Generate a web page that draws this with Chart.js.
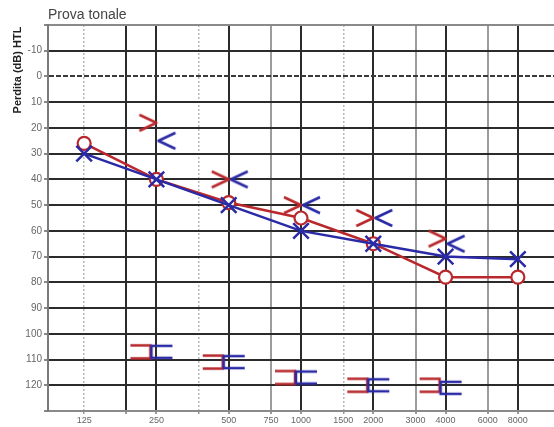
<!DOCTYPE html>
<html lang="it">
<head>
  <meta charset="UTF-8">
  <title>Prova tonale</title>
  <script src="https://cdn.jsdelivr.net/npm/chart.js@4.4.1/dist/chart.umd.min.js"></script>
  <style>
    html, body {
      margin: 0;
      padding: 0;
      background: #fff;
      overflow: hidden;
    }
  </style>
</head>
<body>

  <canvas id="audiogramma" width="554" height="427"></canvas>

  <script>
    // frequenze (Hz) con linea di griglia e quelle con etichetta
    const frequenzeGriglia = [125, 187.5, 250, 375, 500, 750, 1000, 1500, 2000, 3000, 4000, 6000, 8000];
    const frequenzeEtichette = [125, 250, 500, 750, 1000, 1500, 2000, 3000, 4000, 6000, 8000];
    const ticksDb = [-20, -10, 0, 10, 20, 30, 40, 50, 60, 70, 80, 90, 100, 110, 120, 130];

    // via aerea
    const frequenzeVA = [125, 250, 500, 1000, 2000, 4000, 8000];
    const destraVA = [26, 40, 49, 55, 65, 78, 78];
    const sinistraVA = [30, 40, 50, 60, 65, 70, 71];

    // via ossea
    const frequenzeVO = [250, 500, 1000, 2000, 4000];
    const destraVO = [18, 40, 50, 55, 63];
    const sinistraVO = [25, 40, 50, 55, 65];

    // mascheramento
    const frequenzeMasch = [250, 500, 1000, 2000, 4000];
    const destraMasch = [107, 111, 117, 120, 120];
    const sinistraMasch = [107, 111, 117, 120, 121];

    const ROSSO = '#b8282c';
    const BLU = '#2a2aa6';

    function segno(tipo, colore) {
      const c = document.createElement('canvas');
      c.width = 64;
      c.height = 24;
      const g = c.getContext('2d');
      g.strokeStyle = colore;
      g.lineWidth = 2.5;
      const cx = 32, cy = 12;
      g.beginPath();
      if (tipo === '>') {
        g.lineJoin = 'round';
        g.moveTo(cx - 17, cy - 8); g.lineTo(cx, cy); g.lineTo(cx - 17, cy + 8);
      } else if (tipo === '<') {
        g.lineJoin = 'round';
        g.moveTo(cx + 19, cy - 8); g.lineTo(cx + 2, cy); g.lineTo(cx + 19, cy + 8);
      } else if (tipo === ']') {
        g.moveTo(cx - 26, cy - 6.5); g.lineTo(cx - 6, cy - 6.5); g.lineTo(cx - 6, cy + 6.5); g.lineTo(cx - 26, cy + 6.5);
      } else {
        g.moveTo(cx + 16, cy - 6); g.lineTo(cx - 5, cy - 6); g.lineTo(cx - 5, cy + 6); g.lineTo(cx + 16, cy + 6);
      }
      g.stroke();
      return c;
    }

    function punti(freq, valori) {
      return freq.map((f, i) => ({ x: f, y: valori[i] }));
    }

    function stileX(v) {
      if ([187.5, 250, 500, 1000, 2000, 4000, 8000].includes(v)) return { color: '#2b2b2b', width: 2, dash: [] };
      if ([750, 3000, 6000].includes(v)) return { color: '#9c9c9c', width: 2, dash: [] };
      return { color: '#b8b8b8', width: 1.5, dash: [2, 2] };
    }

    function stileY(v) {
      if (v === -20 || v === 130) return { color: '#8a8a8a', width: 2, dash: [] };
      if (v === 0) return { color: '#3a3a3a', width: 2, dash: [5, 2] };
      return { color: '#2b2b2b', width: 2, dash: [] };
    }

    const titoli = {
      id: 'titoli',
      afterDraw(chart) {
        const ctx = chart.ctx;
        ctx.save();
        ctx.fillStyle = '#444';
        ctx.font = '14px "Liberation Sans", Arial, sans-serif';
        ctx.textBaseline = 'alphabetic';
        ctx.textAlign = 'left';
        ctx.fillText('Prova tonale', chart.chartArea.left, 19);

        ctx.translate(18, 70);
        ctx.rotate(-Math.PI / 2);
        ctx.fillStyle = '#222';
        ctx.font = 'bold 11px "Liberation Sans", Arial, sans-serif';
        ctx.textAlign = 'center';
        ctx.textBaseline = 'middle';
        ctx.fillText('Perdita (dB) HTL', 0, 0);
        ctx.restore();
      }
    };

    const ctx = document.getElementById('audiogramma').getContext('2d');

    new Chart(ctx, {
      type: 'scatter',
      data: {
        datasets: [
          {
            label: 'VA sinistra',
            data: punti(frequenzeVA, sinistraVA),
            showLine: true,
            borderColor: BLU,
            borderWidth: 2.5,
            pointStyle: 'crossRot',
            pointRadius: 11,
            pointBorderWidth: 2.5,
            pointBorderColor: BLU
          },
          {
            label: 'VA destra',
            data: punti(frequenzeVA, destraVA),
            showLine: true,
            borderColor: ROSSO,
            borderWidth: 2.5,
            pointStyle: 'circle',
            pointRadius: 6.5,
            pointBorderWidth: 2.2,
            pointBorderColor: ROSSO,
            pointBackgroundColor: '#fff'
          },
          {
            label: 'VO destra',
            data: punti(frequenzeVO, destraVO),
            pointStyle: segno('>', ROSSO),
            pointRadius: 5
          },
          {
            label: 'VO sinistra',
            data: punti(frequenzeVO, sinistraVO),
            pointStyle: segno('<', BLU),
            pointRadius: 5
          },
          {
            label: 'Masch. sinistra',
            data: punti(frequenzeMasch, sinistraMasch),
            pointStyle: segno('[', BLU),
            pointRadius: 5
          },
          {
            label: 'Masch. destra',
            data: punti(frequenzeMasch, destraMasch),
            pointStyle: segno(']', ROSSO),
            pointRadius: 5
          }
        ]
      },
      options: {
        responsive: false,
        animation: false,
        layout: {
          autoPadding: false,
          padding: { top: 25, right: 0, left: 0, bottom: 0 }
        },
        plugins: {
          legend: { display: false },
          tooltip: { enabled: false }
        },
        scales: {
          x: {
            type: 'logarithmic',
            min: 125 / Math.SQRT2,
            max: 8000 * Math.SQRT2,
            afterBuildTicks: scale => {
              scale.ticks = frequenzeGriglia.map(v => ({ value: v }));
            },
            afterFit: scale => {
              scale.height = 16;
              scale.paddingLeft = 0;
              scale.paddingRight = 0;
            },
            grid: {
              color: c => c.tick ? stileX(c.tick.value).color : '#888',
              lineWidth: c => c.tick ? stileX(c.tick.value).width : 2,
              tickLength: 3,
              tickColor: '#999'
            },
            border: {
              color: '#8a8a8a',
              width: 2,
              dash: c => c.tick ? stileX(c.tick.value).dash : []
            },
            ticks: {
              autoSkip: false,
              maxRotation: 0,
              padding: 1,
              color: '#666',
              font: { family: '"Liberation Sans", Arial, sans-serif', size: 9 },
              callback: v => frequenzeEtichette.includes(v) ? String(v) : ''
            }
          },
          y: {
            type: 'linear',
            reverse: true,
            min: -20,
            max: 130,
            afterBuildTicks: scale => {
              scale.ticks = ticksDb.map(v => ({ value: v }));
            },
            afterFit: scale => {
              scale.width = 48;
              scale.paddingTop = 0;
              scale.paddingBottom = 0;
            },
            grid: {
              color: c => c.tick ? stileY(c.tick.value).color : '#888',
              lineWidth: c => c.tick ? stileY(c.tick.value).width : 2,
              tickLength: 4,
              tickColor: '#888'
            },
            border: {
              color: '#7a7a7a',
              width: 2,
              dash: c => c.tick ? stileY(c.tick.value).dash : []
            },
            ticks: {
              padding: 2,
              color: '#666',
              font: { family: '"Liberation Sans", Arial, sans-serif', size: 10 },
              callback: v => (v === -20 || v === 130) ? '' : String(v)
            }
          }
        }
      },
      plugins: [titoli]
    });
  </script>

</body>
</html>
